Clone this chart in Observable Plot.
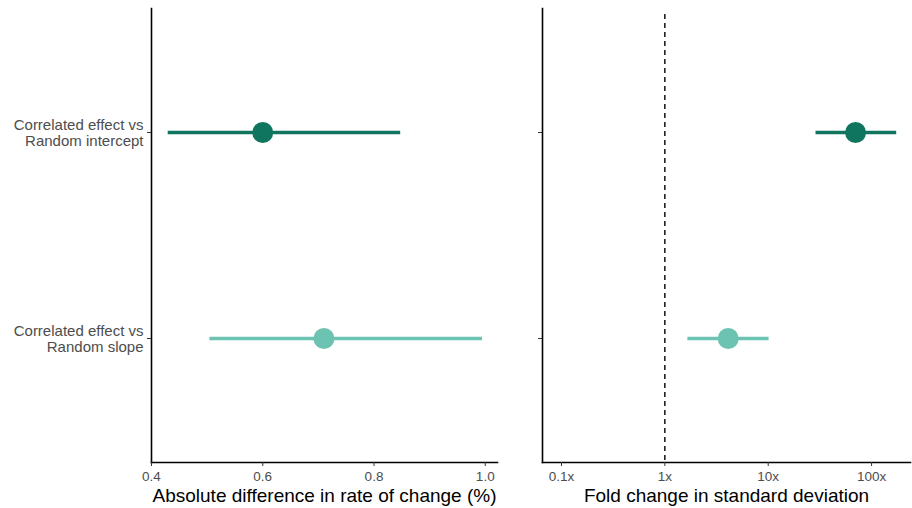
<!DOCTYPE html>
<html><head><meta charset="utf-8">
<script src="https://cdn.jsdelivr.net/npm/d3@7"></script>
<script src="https://cdn.jsdelivr.net/npm/@observablehq/plot@0.6"></script>
<style>
body{margin:0;background:#fff;font-family:"Liberation Sans",Arial,sans-serif}
#wrap{display:flex;width:912px;height:508px}
</style></head><body><div id="wrap"></div>
<script>
const comparisons = ["Correlated effect vs\nRandom intercept", "Correlated effect vs\nRandom slope"];
const colors = ["#10755f", "#6cc3b2"];
const absEst = [0.60, 0.71];
const absLo = [0.43, 0.505];
const absHi = [0.848, 0.995];
const foldEst = [70, 4.1];
const foldLo = [29, 1.67];
const foldHi = [175, 10.2];
const foldTicks = [0.1, 1, 10, 100];
const absTicks = [0.4, 0.6, 0.8, 1.0];

const rows = comparisons.map((c, i) => ({
  comparison: c, color: colors[i],
  absEst: absEst[i], absLo: absLo[i], absHi: absHi[i],
  foldEst: foldEst[i], foldLo: foldLo[i], foldHi: foldHi[i]
}));

const common = {
  height: 508, marginTop: 8, marginBottom: 46,
  style: {fontFamily: '"Liberation Sans", Arial, sans-serif', fontSize: "13px", color: "#000", background: "#fff"}
};
const yScale = {type: "point", domain: comparisons, padding: 0.6};

const left = Plot.plot({
  ...common, width: 510, marginLeft: 151, marginRight: 13,
  x: {domain: [0.4, 1.022]},
  y: yScale,
  color: {type: "identity"},
  marks: [
    Plot.frame({anchor: "left", stroke: "#000", strokeWidth: 1.6}),
    Plot.frame({anchor: "bottom", stroke: "#000", strokeWidth: 1.6}),
    Plot.axisX({ticks: absTicks, tickFormat: d3.format(".1f"), tickSize: 4, tickPadding: 5, fontSize: 13.5, fill: "#4d4d4d", stroke: "#333", label: null}),
    Plot.axisX({ticks: [], label: "Absolute difference in rate of change (%)", labelAnchor: "center", labelArrow: "none", labelOffset: 39, fontSize: 19, fill: "#000"}),
    Plot.axisY({tickSize: 4, tickPadding: 4, fontSize: 15, fill: "#4d4d4d", stroke: "#333", lineHeight: 1.07, label: null}),
    Plot.ruleY(rows, {y: "comparison", x1: "absLo", x2: "absHi", stroke: "color", strokeWidth: 3.6}),
    Plot.dot(rows, {y: "comparison", x: "absEst", fill: "color", r: 10.5})
  ]
});

const right = Plot.plot({
  ...common, width: 402, marginLeft: 32, marginRight: 2,
  x: {type: "log", domain: [0.0655, 238]},
  y: yScale,
  color: {type: "identity"},
  marks: [
    Plot.frame({anchor: "left", stroke: "#000", strokeWidth: 1.6}),
    Plot.frame({anchor: "bottom", stroke: "#000", strokeWidth: 1.6}),
    Plot.ruleX([1], {stroke: "#000", strokeDasharray: "5,4", strokeWidth: 1.4, insetTop: 6}),
    Plot.axisX({ticks: foldTicks, tickFormat: d => d + "x", tickSize: 4, tickPadding: 5, fontSize: 13.5, fill: "#4d4d4d", stroke: "#333", label: null}),
    Plot.axisX({ticks: [], label: "Fold change in standard deviation", labelAnchor: "center", labelArrow: "none", labelOffset: 39, fontSize: 19, fill: "#000"}),
    Plot.axisY({tickSize: 4, tickFormat: () => "", stroke: "#333", label: null}),
    Plot.ruleY(rows, {y: "comparison", x1: "foldLo", x2: "foldHi", stroke: "color", strokeWidth: 3.6}),
    Plot.dot(rows, {y: "comparison", x: "foldEst", fill: "color", r: 10.5})
  ]
});

document.getElementById("wrap").append(left, right);
</script></body></html>
